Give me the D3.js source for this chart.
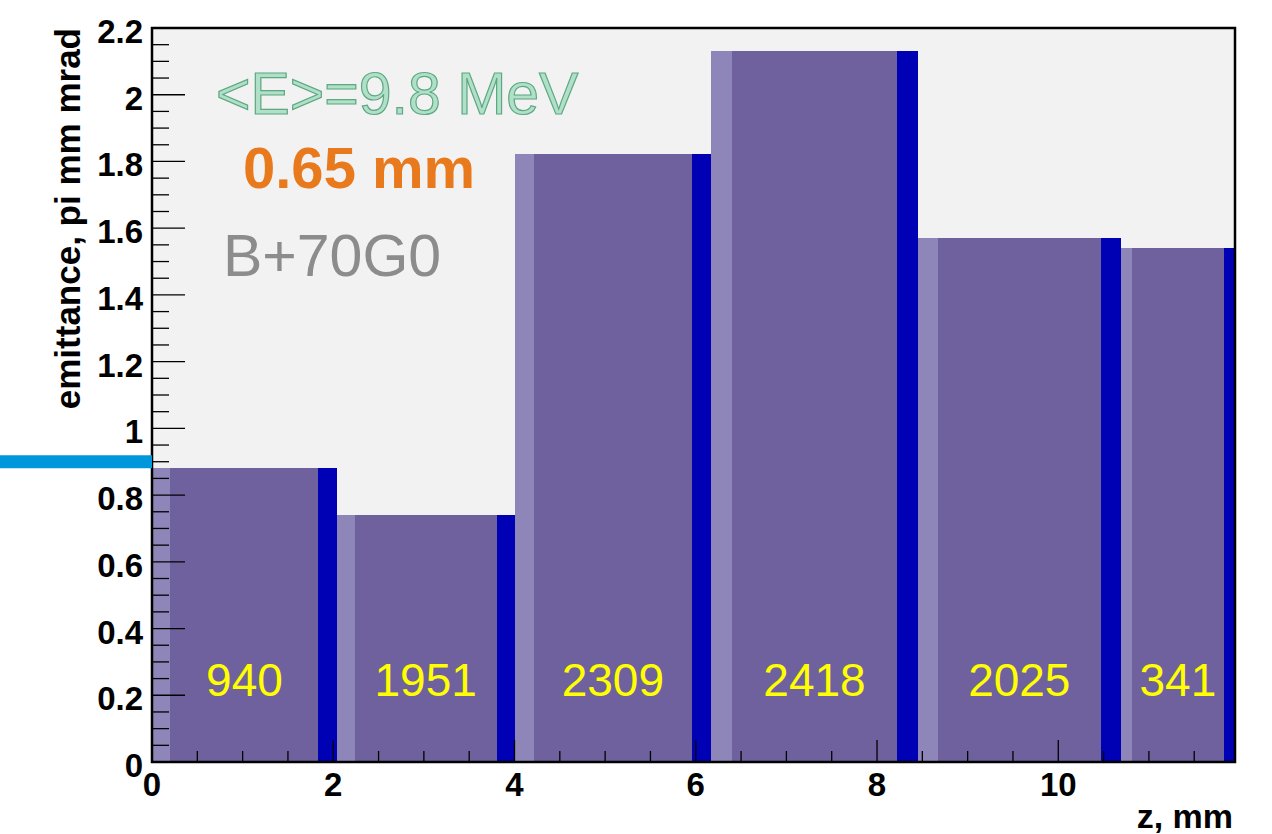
<!DOCTYPE html>
<html>
<head>
<meta charset="utf-8">
<script src="https://cdn.jsdelivr.net/npm/d3@7"></script>
<style>
body{margin:0;background:white;}
svg text{font-family:"Liberation Sans",Arial,Helvetica,sans-serif;}
</style>
</head>
<body>
<svg id="Em"></svg>
<script>
//bin edges along z, mm
var edges=[0,2.04,4.0,6.17,8.45,10.69,11.95]
//emittance per bin
var emittance=[0.881,0.740,1.823,2.131,1.571,1.541]
//number of particles written in each bin
var counts=["940","1951","2309","2418","2025","341"]
var yTicks=[0,0.2,0.4,0.6,0.8,1,1.2,1.4,1.6,1.8,2,2.2]
var xTicks=[0,2,4,6,8,10]
var refLine=0.9
var notes=[
    {text:"<E>=9.8 MeV",cls:"energy"},
    {text:"0.65 mm",cls:"size"},
    {text:"B+70G0",cls:"field"}
]

var barOffset=0.1 //fraction of bin width the two histograms are shifted

var makeTranslateString = function(x,y)
{
    return "translate("+x+","+y+")";
}

var buildBins = function()
{
    var bins=[]
    for(var i=0;i<emittance.length;i++)
    {
        var w=edges[i+1]-edges[i]
        bins.push({
            x0:edges[i],
            x1:edges[i+1],
            shift:w*barOffset,
            value:emittance[i],
            count:counts[i]
        })
    }
    return bins
}

//bars: blue histogram, lavender one on top shifted left
var drawBars = function(bins,target,xScale,yScale)
{
    var bar=target.selectAll("g.bin")
        .data(bins)
        .enter()
        .append("g")
        .classed("bin",true)
        .attr("shape-rendering","crispEdges")

    //lavender part not over blue
    bar.append("rect")
        .attr("x",function(b){return xScale(b.x0)})
        .attr("y",function(b){return yScale(b.value)})
        .attr("width",function(b){return xScale(b.x1-b.shift)-xScale(b.x0)})
        .attr("height",function(b){return yScale(0)-yScale(b.value)})
        .attr("fill","#8e86b9")

    //blue histogram
    bar.append("rect")
        .attr("x",function(b){return xScale(b.x0+b.shift)})
        .attr("y",function(b){return yScale(b.value)})
        .attr("width",function(b){return xScale(b.x1)-xScale(b.x0+b.shift)})
        .attr("height",function(b){return yScale(0)-yScale(b.value)})
        .attr("fill","#0000b4")

    //where both overlap
    bar.append("rect")
        .attr("x",function(b){return xScale(b.x0+b.shift)})
        .attr("y",function(b){return yScale(b.value)})
        .attr("width",function(b){return xScale(b.x1-b.shift)-xScale(b.x0+b.shift)})
        .attr("height",function(b){return yScale(0)-yScale(b.value)})
        .attr("fill","#6e619d")

    bar.append("text")
        .text(function(b){return b.count})
        .attr("x",function(b){return xScale((b.x0+b.x1)/2)})
        .attr("y",yScale(0)-66)
        .attr("text-anchor","middle")
        .attr("fill","#ffff00")
        .style("font-size","46px")
}

//ROOT style ticks, major and minor
var drawAxes = function(target,xScale,yScale)
{
    var axes=target.append("g").attr("stroke","black").attr("stroke-width",1.3)
    var x0=xScale.range()[0]
    var y0=yScale.range()[0]

    var yMinor=d3.range(0,2.2001,0.05)
    axes.selectAll("line.ymin")
        .data(yMinor)
        .enter()
        .append("line")
        .attr("x1",x0)
        .attr("x2",function(v){
            var major=Math.abs(v/0.2-Math.round(v/0.2))<0.001
            return x0+(major?33:17)
        })
        .attr("y1",function(v){return yScale(v)})
        .attr("y2",function(v){return yScale(v)})

    var xMinor=d3.range(0,11.95,0.5)
    axes.selectAll("line.xmin")
        .data(xMinor)
        .enter()
        .append("line")
        .attr("x1",function(v){return xScale(v)})
        .attr("x2",function(v){return xScale(v)})
        .attr("y1",y0)
        .attr("y2",function(v){
            return y0-(v%2==0?22:11)
        })

    var labels=target.append("g")
        .style("font-weight","bold")
        .style("font-size","33px")
        .attr("fill","black")

    labels.selectAll("text.yl")
        .data(yTicks)
        .enter()
        .append("text")
        .text(function(v){return d3.format("~g")(v)})
        .attr("x",x0-9)
        .attr("y",function(v){return yScale(v)+15})
        .attr("text-anchor","end")

    labels.selectAll("text.xl")
        .data(xTicks)
        .enter()
        .append("text")
        .text(function(v){return v})
        .attr("x",function(v){return xScale(v)})
        .attr("y",y0+34)
        .attr("text-anchor","middle")
}

var drawLabels = function(target,xScale,yScale)
{
    var labels=target.append("g")
        .style("font-weight","bold")
        .style("font-size","34px")

    labels.append("text")
        .text("z, mm")
        .attr("x",xScale.range()[1]-2)
        .attr("y",828)
        .attr("text-anchor","end")

    labels.append("g")
        .attr("transform",makeTranslateString(80,yScale.range()[1]))
        .append("text")
        .text("emittance, pi mm mrad")
        .attr("text-anchor","end")
        .attr("transform","rotate(270)")
        .style("font-size","35px")
}

var drawNotes = function(target)
{
    var pos={
        energy:{x:216,y:114,size:59,fill:"#b0e0c8",stroke:"#5ea882",weight:"normal"},
        size:{x:243,y:188,size:58,fill:"#e8791c",stroke:"none",weight:"bold"},
        field:{x:223,y:276,size:59,fill:"#8c8c8c",stroke:"none",weight:"normal"}
    }
    target.selectAll("text.note")
        .data(notes)
        .enter()
        .append("text")
        .classed("note",true)
        .text(function(n){return n.text})
        .attr("x",function(n){return pos[n.cls].x})
        .attr("y",function(n){return pos[n.cls].y})
        .attr("fill",function(n){return pos[n.cls].fill})
        .attr("stroke",function(n){return pos[n.cls].stroke})
        .attr("stroke-width",1.2)
        .style("font-size",function(n){return pos[n.cls].size+"px"})
        .style("font-weight",function(n){return pos[n.cls].weight})
}

var initGraph = function()
{
    var screen={width:1272,height:834}
    var frame={left:152,right:1235,top:28,bottom:762}

    var svg=d3.select("#Em")
        .attr("width",screen.width)
        .attr("height",screen.height)

    var xScale=d3.scaleLinear()
        .domain([0,11.95])
        .range([frame.left,frame.right])
    var yScale=d3.scaleLinear()
        .domain([0,2.2])
        .range([frame.bottom,frame.top])

    svg.append("rect")
        .attr("x",frame.left)
        .attr("y",frame.top)
        .attr("width",frame.right-frame.left)
        .attr("height",frame.bottom-frame.top)
        .attr("fill","#f2f2f2")

    var bins=buildBins()
    drawBars(bins,svg.append("g"),xScale,yScale)
    drawNotes(svg)
    drawAxes(svg,xScale,yScale)

    svg.append("rect")
        .attr("x",frame.left)
        .attr("y",frame.top)
        .attr("width",frame.right-frame.left)
        .attr("height",frame.bottom-frame.top)
        .attr("fill","none")
        .attr("stroke","black")
        .attr("stroke-width",2.5)

    //reference line left of the frame
    svg.append("line")
        .attr("x1",0)
        .attr("x2",frame.left)
        .attr("y1",yScale(refLine))
        .attr("y2",yScale(refLine))
        .attr("stroke","#0096dc")
        .attr("stroke-width",13)

    drawLabels(svg,xScale,yScale)
}

initGraph()
</script>
</body>
</html>
